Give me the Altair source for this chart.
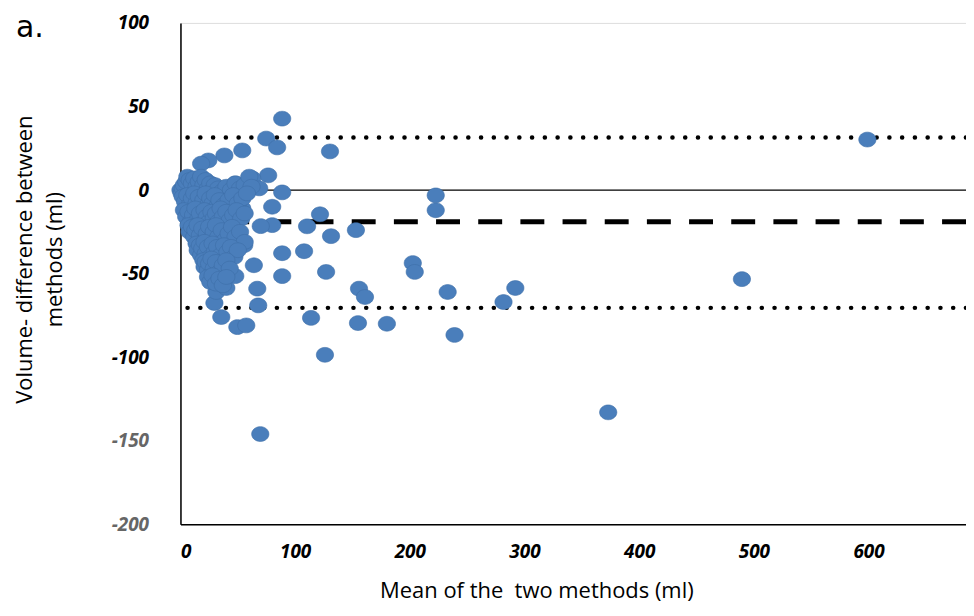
import math
import altair as alt
import pandas as pd

# ---- data (mean of methods, difference) ----
outlier_x = [88.7, 74.8, 84.3, 53.9, 38.3, 24.3, 18.0, 130.4, 76.5, 62.6, 88.7, 68.7, 47.8,
             222.6, 222.6, 121.7, 110.4, 131.3, 153.0, 80.0, 53.9, 80.0, 70.0, 107.8, 88.7,
             55.6, 64.0, 88.7, 127.0, 202.6, 204.3, 47.8, 67.0, 67.8, 155.7, 160.9, 233.0,
             292.0, 281.7, 113.9, 49.6, 57.4, 154.8, 180.0, 239.0, 126.0, 373.0, 69.6,
             489.6, 599.0, 35.6, 29.6, 31.3, 40.0]
outlier_y = [42.7, 30.8, 25.5, 23.7, 20.7, 17.7, 15.8, 23.1, 8.8, 7.0, -1.4, 1.0, 4.0,
             -3.2, -12.1, -14.5, -21.7, -27.6, -24.0, -10.0, -11.0, -21.0, -21.6, -36.6, -37.8,
             -33.0, -45.0, -51.5, -49.0, -43.7, -49.0, -51.5, -59.0, -69.0, -59.0, -64.0, -61.0,
             -58.6, -67.0, -76.5, -82.0, -81.0, -79.6, -80.0, -86.7, -98.6, -133.0, -146.0,
             -53.3, 30.2, -76.0, -67.6, -61.0, -58.6]

cluster_x = [0, 1, 2, 3, 5, 6, 8, 10, 12, 14, 16, 18, 20, 22, 24, 26, 28, 30, 33, 36, 40, 44, 48, 52, 56, 60, 62,
             2, 4, 6, 8, 10, 12, 14, 16, 18, 20, 22, 24, 26, 28, 30, 32, 34, 38, 42, 46, 50, 54, 58,
             3, 5, 7, 9, 11, 13, 15, 17, 19, 21, 23, 25, 27, 29, 31, 33, 35, 37, 40, 43, 46, 49, 53, 56,
             7, 8, 10, 12, 13, 15, 17, 19, 21, 23, 25, 27, 29, 31, 33, 36, 39, 42, 45, 48, 52, 56,
             14, 15, 17, 18, 19, 21, 22, 24, 26, 28, 30, 32, 35, 38, 41, 44, 47, 50,
             20, 21, 22, 24, 25, 27, 29, 31, 34, 37, 40, 43,
             24, 26, 28, 31, 34, 37, 40]
cluster_y = [0, -2, 1, 3, 5, 8, 6, 4, 7, 2, 5, 8, 3, 6, 1, 4, 0, 3, 1, -1, 2, 0, 4, 1, 3, 8, 2,
             -4, -7, -3, -9, -5, -2, -8, -4, -10, -6, -2, -9, -5, -8, -3, -10, -6, -9, -6, -3, -8, -5, -2,
             -12, -16, -13, -19, -15, -11, -18, -14, -20, -12, -16, -19, -13, -17, -14, -19, -11, -16, -13, -18, -15, -12, -17, -14,
             -21, -25, -22, -28, -24, -21, -27, -23, -30, -26, -22, -29, -25, -21, -28, -24, -30, -26, -22, -28, -25, -31,
             -32, -36, -33, -39, -35, -31, -38, -34, -40, -32, -37, -34, -39, -33, -37, -34, -40, -36,
             -42, -46, -43, -48, -44, -41, -47, -43, -49, -45, -42, -47,
             -52, -55, -51, -56, -53, -57, -52]

bias = -19.0
loa_upper = 31.5
loa_lower = -70.5

x_ticks = [0, 100, 200, 300, 400, 500, 600]
y_ticks = [-200, -150, -100, -50, 0, 50, 100]

pts = pd.DataFrame({"mean": outlier_x + cluster_x, "diff": outlier_y + cluster_y})

# ellipse symbol (wider than tall)
ell = "M" + " L".join(
    f"{math.cos(2*math.pi*k/32):.4f},{0.86*math.sin(2*math.pi*k/32):.4f}" for k in range(32)
) + " Z"

LFONT = "Open Sans"
TFONT = "Open Sans"
xs = alt.Scale(domain=[0, 685], nice=False, zero=False)
ys = alt.Scale(domain=[-200, 100], nice=False, zero=False)

points = alt.Chart(pts).mark_point(
    shape=ell, filled=True, size=300, fill="#4a7ebb", stroke="#3e6ea8",
    strokeWidth=0.6, opacity=1
).encode(
    x=alt.X("mean:Q", scale=xs, axis=alt.Axis(
        values=x_ticks, title="Mean of the\u00a0 two methods (ml)", grid=False, ticks=False,
        domainColor="#000000", domainWidth=1.5, labelFont=LFONT, labelFontSize=19,
        labelFontWeight="bold", labelFontStyle="italic", labelColor="#000000",
        labelExpr="datum.value + ''",
        labelPadding=18, titleFont=TFONT, titleFontSize=22, titleFontWeight="normal",
        titleColor="#000000", titleX=357, titleY=66, titleBaseline="middle")),
    y=alt.Y("diff:Q", scale=ys, axis=alt.Axis(
        values=y_ticks, title=["Volume- difference between", "methods (ml)"], grid=False,
        ticks=False, domainColor="#000000", domainWidth=1.5, labelFont=LFONT,
        labelFontSize=19, labelFontWeight="bold", labelFontStyle="italic",
        labelExpr="datum.value + ''",
        labelColor={"condition": {"test": "datum.value < -120", "value": "#666666"}, "value": "#000000"},
        labelPadding=32, titleFont=TFONT, titleFontSize=22, titleFontWeight="normal",
        titleColor="#000000", titleX=-166, titleY=237, titleBaseline="top",
        titleLineHeight=30, titleAngle=270, titleAlign="center")),
)

zero_line = alt.Chart(pd.DataFrame({"y": [0.0]})).mark_rule(
    color="#000000", strokeWidth=1.3).encode(y=alt.Y("y:Q", scale=ys))
bias_line = alt.Chart(pd.DataFrame({"y": [bias]})).mark_rule(
    color="#000000", strokeWidth=5, strokeDash=[24, 18.3]).encode(y=alt.Y("y:Q", scale=ys))
loa_lines = alt.Chart(pd.DataFrame({"y": [loa_upper, loa_lower]})).mark_rule(
    color="#000000", strokeWidth=4.5, strokeDash=[0.1, 12.7], strokeCap="round"
).encode(y=alt.Y("y:Q", scale=ys))

panel_label = alt.Chart(pd.DataFrame({"t": ["a."]})).mark_text(
    align="left", baseline="alphabetic", fontSize=30, font="DejaVu Sans", color="#000000"
).encode(x=alt.value(-165), y=alt.value(14), text="t:N")

chart = alt.layer(zero_line, bias_line, loa_lines, points, panel_label).properties(
    width=788, height=503,
    autosize=alt.AutoSizeParams(type="none"),
    padding={"left": 173, "top": 14, "right": 0, "bottom": 83},
).configure_view(stroke=None).configure(background="#ffffff")

chart.save("out.html", embed_options={"renderer": "svg", "actions": False})
